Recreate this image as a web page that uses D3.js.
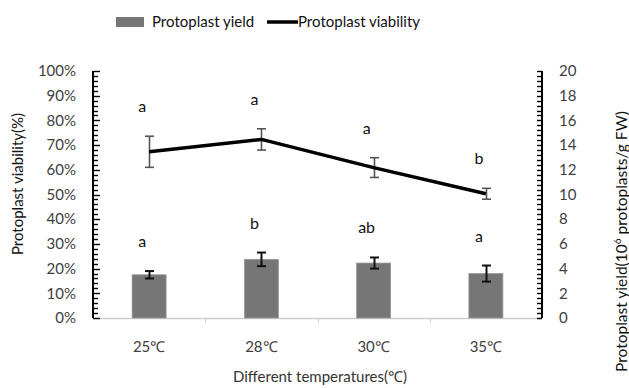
<!DOCTYPE html>
<html>
<head>
<meta charset="utf-8">
<script src="https://cdn.jsdelivr.net/npm/d3@7"></script>
<style>
  body { margin: 0; background: #fff; }
  svg { font-family: Lato, "Open Sans", sans-serif; }
</style>
</head>
<body>
<svg id="chart" width="629" height="388"></svg>
<script>
"use strict";

// data
const temperatures = ["25℃", "28℃", "30℃", "35℃"];
const yieldMean = [3.5, 4.75, 4.45, 3.6];        // 10^6 protoplasts / g FW
const yieldErr = [0.3, 0.55, 0.45, 0.65];
const yieldLetters = ["a", "b", "ab", "a"];
const viabilityMean = [67.3, 72.3, 60.9, 50.3];  // %
const viabilityErr = [6.3, 4.3, 4.0, 2.2];
const viabilityLetters = ["a", "a", "a", "b"];

const leftTicks = d3.range(0, 101, 10);
const rightTicks = d3.range(0, 21, 2);

const svg = d3.select("#chart");
const dims = { left: 93, right: 542, top: 71, bottom: 318 };

const x = d3.scaleBand().domain(temperatures).range([dims.left, dims.right]);
const yLeft = d3.scaleLinear().domain([0, 100]).range([dims.bottom, dims.top]);
const yRight = d3.scaleLinear().domain([0, 20]).range([dims.bottom, dims.top]);

const barW = 34;
const labelGap = 29;

// bottom axis (light gray, ticks between categories)
const xAxisG = svg.append("g");
xAxisG.append("line")
  .attr("x1", dims.left).attr("x2", dims.right)
  .attr("y1", dims.bottom + 0.5).attr("y2", dims.bottom + 0.5)
  .attr("stroke", "#d0d0d0").attr("stroke-width", 1.5);
temperatures.slice(1).forEach((t) => {
  xAxisG.append("line")
    .attr("x1", Math.round(x(t)) + 0.5).attr("x2", Math.round(x(t)) + 0.5)
    .attr("y1", dims.bottom).attr("y2", dims.bottom + 5)
    .attr("stroke", "#d0d0d0");
});
xAxisG.selectAll("text.xtick")
  .data(temperatures)
  .join("text")
  .attr("class", "xtick")
  .attr("x", (d) => x(d) + x.bandwidth() / 2)
  .attr("y", 352)
  .attr("text-anchor", "middle")
  .attr("font-size", 15)
  .attr("fill", "#404040")
  .text((d) => d);

// bars
svg.append("g")
  .selectAll("rect")
  .data(yieldMean)
  .join("rect")
  .attr("x", (d, i) => x(temperatures[i]) + x.bandwidth() / 2 - barW / 2)
  .attr("y", (d) => yRight(d))
  .attr("width", barW)
  .attr("height", (d) => dims.bottom - yRight(d))
  .attr("fill", "#767676")
  .attr("stroke", "#9a9a9a")
  .attr("stroke-width", 0.8);

// helper for error bars
function errorBars(g, means, errs, scale, color, width, cap) {
  means.forEach((m, i) => {
    const cx = Math.round(x(temperatures[i]) + x.bandwidth() / 2) + 0.5;
    const y0 = scale(m + errs[i]);
    const y1 = scale(m - errs[i]);
    g.append("line").attr("x1", cx).attr("x2", cx).attr("y1", y0).attr("y2", y1)
      .attr("stroke", color).attr("stroke-width", width);
    [y0, y1].forEach((yy) => {
      g.append("line").attr("x1", cx - cap).attr("x2", cx + cap).attr("y1", yy).attr("y2", yy)
        .attr("stroke", color).attr("stroke-width", width);
    });
  });
}

errorBars(svg.append("g"), yieldMean, yieldErr, yRight, "#111", 2, 4.5);

// viability line
const line = d3.line()
  .x((d, i) => x(temperatures[i]) + x.bandwidth() / 2)
  .y((d) => yLeft(d));
errorBars(svg.append("g"), viabilityMean, viabilityErr, yLeft, "#555", 1.6, 4.5);
svg.append("path")
  .datum(viabilityMean)
  .attr("d", line)
  .attr("fill", "none")
  .attr("stroke", "#000")
  .attr("stroke-width", 3.5)
  .attr("stroke-linejoin", "round");

// significance letters
const letterG = svg.append("g")
  .attr("font-size", 16)
  .attr("fill", "#111")
  .attr("text-anchor", "middle");
viabilityLetters.forEach((l, i) => {
  letterG.append("text")
    .attr("x", x(temperatures[i]) + x.bandwidth() / 2 - 7)
    .attr("y", yLeft(viabilityMean[i] + viabilityErr[i]) - labelGap + 5)
    .text(l);
});
yieldLetters.forEach((l, i) => {
  letterG.append("text")
    .attr("x", x(temperatures[i]) + x.bandwidth() / 2 - 7)
    .attr("y", yRight(yieldMean[i] + yieldErr[i]) - labelGap + 5)
    .text(l);
});

// left axis
const lg = svg.append("g").attr("transform", `translate(${dims.left},0)`);
lg.append("line").attr("x1", 0).attr("x2", 0).attr("y1", dims.top).attr("y2", dims.bottom)
  .attr("stroke", "#000").attr("stroke-width", 2);
lg.selectAll("line.tk")
  .data(d3.range(0, 101, 2))
  .join("line")
  .attr("class", "tk")
  .attr("x1", 0)
  .attr("x2", (d) => (d % 10 === 0 ? 7 : 5))
  .attr("y1", (d) => Math.round(yLeft(d)) + 0.5)
  .attr("y2", (d) => Math.round(yLeft(d)) + 0.5)
  .attr("stroke", "#000").attr("stroke-width", 1.4);
lg.selectAll("text")
  .data(leftTicks)
  .join("text")
  .attr("x", -17)
  .attr("y", (d) => yLeft(d))
  .attr("dy", "0.35em")
  .attr("text-anchor", "end")
  .attr("font-size", 15)
  .attr("fill", "#404040")
  .text((d) => d + "%");

// right axis
const rg = svg.append("g").attr("transform", `translate(${dims.right},0)`);
rg.append("line").attr("x1", 0).attr("x2", 0).attr("y1", dims.top).attr("y2", dims.bottom)
  .attr("stroke", "#000").attr("stroke-width", 2);
rg.selectAll("line.tk")
  .data(d3.range(0, 20.01, 0.4))
  .join("line")
  .attr("class", "tk")
  .attr("x1", 0)
  .attr("x2", -5)
  .attr("y1", (d) => Math.round(yRight(d)) + 0.5)
  .attr("y2", (d) => Math.round(yRight(d)) + 0.5)
  .attr("stroke", "#000").attr("stroke-width", 1.4);
rg.selectAll("text")
  .data(rightTicks)
  .join("text")
  .attr("x", 17)
  .attr("y", (d) => yRight(d))
  .attr("dy", "0.35em")
  .attr("text-anchor", "start")
  .attr("font-size", 15)
  .attr("fill", "#404040")
  .text((d) => d);

// axis titles
svg.append("text")
  .attr("transform", "translate(23,184) rotate(-90)")
  .attr("text-anchor", "middle")
  .attr("font-size", 15)
  .attr("fill", "#111")
  .text("Protoplast viability(%)");

const rt = svg.append("text")
  .attr("transform", "translate(627,372) rotate(-90)")
  .attr("text-anchor", "start")
  .attr("font-size", 15.5)
  .attr("fill", "#111");
rt.append("tspan").text("Protoplast yield(10");
rt.append("tspan").attr("font-size", 10).attr("dy", -6).text("6");
rt.append("tspan").attr("dy", 6).text(" protoplasts/g FW)");

svg.append("text")
  .attr("x", 320)
  .attr("y", 382)
  .attr("text-anchor", "middle")
  .attr("font-size", 15)
  .attr("fill", "#333")
  .text("Different temperatures(℃)");

// legend
const leg = svg.append("g").attr("font-size", 15).attr("fill", "#111");
leg.append("rect").attr("x", 116).attr("y", 17).attr("width", 28).attr("height", 10).attr("fill", "#767676");
leg.append("text").attr("x", 152).attr("y", 22).attr("dy", "0.35em").text("Protoplast yield");
leg.append("line").attr("x1", 267).attr("x2", 298).attr("y1", 22).attr("y2", 22)
  .attr("stroke", "#000").attr("stroke-width", 3.5);
leg.append("text").attr("x", 298).attr("y", 22).attr("dy", "0.35em").text("Protoplast viability");
</script>
</body>
</html>
